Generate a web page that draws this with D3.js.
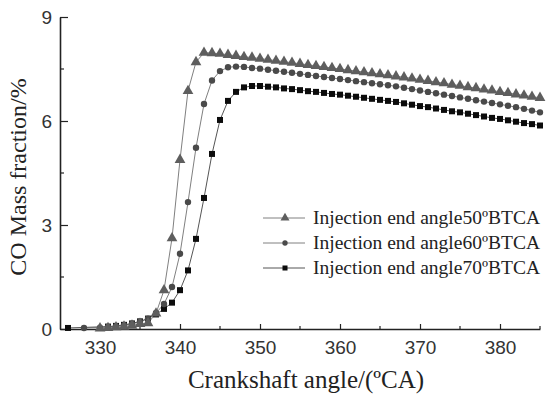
<!DOCTYPE html>
<html>
<head>
<meta charset="utf-8">
<script src="https://cdn.jsdelivr.net/npm/d3@7"></script>
<style>
  html, body { margin: 0; padding: 0; background: #fff; }
  svg { display: block; }
</style>
</head>
<body>
<div id="chart"></div>
<script>
// 曲線資料
const seriesNames = [
    "Injection end angle50ºBTCA",
    "Injection end angle60ºBTCA",
    "Injection end angle70ºBTCA"
];

// 50°BTCA - 三角形
const angles50 = [330, 331, 332, 333, 334, 335, 336, 337, 338, 339, 340, 341, 342, 343, 344, 345, 346, 347, 348, 349,
    350, 351, 352, 353, 354, 355, 356, 357, 358, 359, 360, 361, 362, 363, 364, 365, 366, 367, 368, 369,
    370, 371, 372, 373, 374, 375, 376, 377, 378, 379, 380, 381, 382, 383, 384, 385];
const co50 = [0.02, 0.03, 0.05, 0.07, 0.10, 0.15, 0.17, 0.45, 1.12, 2.62, 4.88, 6.87, 7.70, 7.97, 7.96, 7.94, 7.91, 7.88, 7.85, 7.83,
    7.80, 7.77, 7.74, 7.71, 7.68, 7.65, 7.62, 7.59, 7.56, 7.53, 7.50, 7.47, 7.44, 7.41, 7.38, 7.35, 7.32, 7.29, 7.26, 7.23,
    7.19, 7.16, 7.12, 7.09, 7.05, 7.02, 6.98, 6.95, 6.91, 6.88, 6.84, 6.81, 6.77, 6.74, 6.70, 6.67];

// 60°BTCA - 圓形
const angles60 = [328, 330, 331, 332, 333, 334, 335, 336, 337, 338, 339, 340, 341, 342, 343, 344, 345, 346, 347, 348, 349,
    350, 351, 352, 353, 354, 355, 356, 357, 358, 359, 360, 361, 362, 363, 364, 365, 366, 367, 368, 369,
    370, 371, 372, 373, 374, 375, 376, 377, 378, 379, 380, 381, 382, 383, 384, 385];
const co60 = [0.03, 0.04, 0.06, 0.08, 0.11, 0.15, 0.21, 0.30, 0.46, 0.72, 1.21, 2.17, 3.66, 5.23, 6.49, 7.17, 7.44, 7.55, 7.57, 7.56, 7.53,
    7.51, 7.48, 7.45, 7.42, 7.39, 7.36, 7.33, 7.30, 7.27, 7.24, 7.21, 7.18, 7.15, 7.12, 7.09, 7.06, 7.03, 7.00, 6.96, 6.92,
    6.88, 6.84, 6.80, 6.76, 6.72, 6.68, 6.64, 6.60, 6.56, 6.52, 6.48, 6.44, 6.40, 6.35, 6.30, 6.25];

// 70°BTCA - 方形
const angles70 = [326, 331, 332, 333, 334, 335, 336, 337, 338, 339, 340, 341, 342, 343, 344, 345, 346, 347, 348, 349,
    350, 351, 352, 353, 354, 355, 356, 357, 358, 359, 360, 361, 362, 363, 364, 365, 366, 367, 368, 369,
    370, 371, 372, 373, 374, 375, 376, 377, 378, 379, 380, 381, 382, 383, 384, 385];
const co70 = [0.03, 0.07, 0.09, 0.12, 0.16, 0.22, 0.30, 0.42, 0.58, 0.76, 1.12, 1.69, 2.60, 3.78, 5.05, 6.03, 6.58, 6.84, 6.97, 7.01,
    7.01, 6.99, 6.97, 6.94, 6.92, 6.89, 6.86, 6.84, 6.81, 6.78, 6.76, 6.73, 6.70, 6.67, 6.64, 6.61, 6.58, 6.55, 6.51, 6.47,
    6.43, 6.40, 6.36, 6.32, 6.28, 6.25, 6.21, 6.17, 6.13, 6.09, 6.06, 6.02, 5.98, 5.94, 5.91, 5.87];

// 座標軸刻度
const xMajorTicks = [330, 340, 350, 360, 370, 380];
const xMinorTicks = [335, 345, 355, 365, 375, 385];
const yMajorTicks = [0, 3, 6, 9];
const yMinorTicks = [1.5, 4.5, 7.5];

const xTitle = "Crankshaft angle/(ºCA)";
const yTitle = "CO Mass fraction/%";

// --- 繪圖 ---

const width = 550, height = 396;
const margin = { left: 60, right: 10, top: 17, bottom: 67 };

const svg = d3.select("#chart").append("svg")
    .attr("width", width)
    .attr("height", height);

const x = d3.scaleLinear().domain([325, 385]).range([margin.left, width - margin.right]);
const y = d3.scaleLinear().domain([0, 9]).range([height - margin.bottom, margin.top]);

const axisColor = "#222";
const tickFont = "'Liberation Sans', Arial, sans-serif";
const serifFont = "'Liberation Serif', 'Times New Roman', serif";

// X 軸 (刻度朝內)
const xAxis = svg.append("g")
    .attr("transform", `translate(0,${y(0)})`)
    .call(d3.axisBottom(x).tickValues(xMajorTicks).tickSizeInner(-5).tickSizeOuter(0).tickPadding(12).tickFormat(d3.format("d")));
xAxis.append("g").selectAll("line")
    .data(xMinorTicks).enter().append("line")
    .attr("x1", d => x(d)).attr("x2", d => x(d))
    .attr("y1", 0).attr("y2", -3)
    .attr("stroke", axisColor);

// Y 軸
const yAxis = svg.append("g")
    .attr("transform", `translate(${x(325)},0)`)
    .call(d3.axisLeft(y).tickValues(yMajorTicks).tickSizeInner(-8).tickSizeOuter(0).tickPadding(8).tickFormat(d3.format("d")));
yAxis.append("g").selectAll("line")
    .data(yMinorTicks).enter().append("line")
    .attr("x1", 0).attr("x2", 4)
    .attr("y1", d => y(d)).attr("y2", d => y(d))
    .attr("stroke", axisColor);

[xAxis, yAxis].forEach(ax => {
    ax.select(".domain").attr("stroke", axisColor).attr("stroke-width", 1.6);
    ax.selectAll(".tick line").attr("stroke", axisColor).attr("stroke-width", 1.2);
    ax.selectAll("g line").attr("stroke-width", 1.2);
    ax.selectAll(".tick text")
        .attr("fill", "#333")
        .style("font-family", tickFont)
        .style("font-size", "19px");
});

// 軸標題
svg.append("text")
    .attr("x", 306)
    .attr("y", 388)
    .attr("text-anchor", "middle")
    .attr("fill", "#222")
    .style("font-family", serifFont)
    .style("font-size", "25px")
    .text(xTitle);

svg.append("text")
    .attr("transform", "translate(26,177) rotate(-90)")
    .attr("text-anchor", "middle")
    .attr("fill", "#222")
    .style("font-family", serifFont)
    .style("font-size", "24px")
    .text(yTitle);

// 曲線
const series = [
    { name: seriesNames[0], xs: angles50, ys: co50, symbol: d3.symbolTriangle, size: 50, fill: "#5e5e5e", line: "#808080" },
    { name: seriesNames[1], xs: angles60, ys: co60, symbol: d3.symbolCircle, size: 32, fill: "#4a4a4a", line: "#808080" },
    { name: seriesNames[2], xs: angles70, ys: co70, symbol: d3.symbolSquare, size: 36, fill: "#0c0c0c", line: "#555" }
];

const line = d3.line().x(d => x(d[0])).y(d => y(d[1]));

// 先畫線，再畫點
series.forEach(s => {
    const pts = s.xs.map((a, i) => [a, s.ys[i]]);
    svg.append("path")
        .datum(pts)
        .attr("fill", "none")
        .attr("stroke", s.line)
        .attr("stroke-width", 1)
        .attr("d", line);
});

series.slice().reverse().forEach(s => {
    const pts = s.xs.map((a, i) => [a, s.ys[i]]);
    const sym = d3.symbol().type(s.symbol).size(s.size);
    svg.append("g").selectAll("path")
        .data(pts).enter().append("path")
        .attr("transform", d => `translate(${x(d[0])},${y(d[1])})`)
        .attr("d", sym)
        .attr("fill", s.fill);
});

// 圖例
const legend = svg.append("g").attr("transform", "translate(263,218)");
series.forEach((s, i) => {
    const row = legend.append("g").attr("transform", `translate(0,${i * 25})`);
    row.append("line")
        .attr("x1", 0).attr("x2", 42)
        .attr("y1", 0).attr("y2", 0)
        .attr("stroke", s.line).attr("stroke-width", 1);
    row.append("path")
        .attr("transform", "translate(22,0)")
        .attr("d", d3.symbol().type(s.symbol).size(s.size * 0.7))
        .attr("fill", s.fill);
    row.append("text")
        .attr("x", 50)
        .attr("y", 6)
        .attr("fill", "#222")
        .style("font-family", serifFont)
        .style("font-size", "19.5px")
        .text(s.name);
});
</script>
</body>
</html>
